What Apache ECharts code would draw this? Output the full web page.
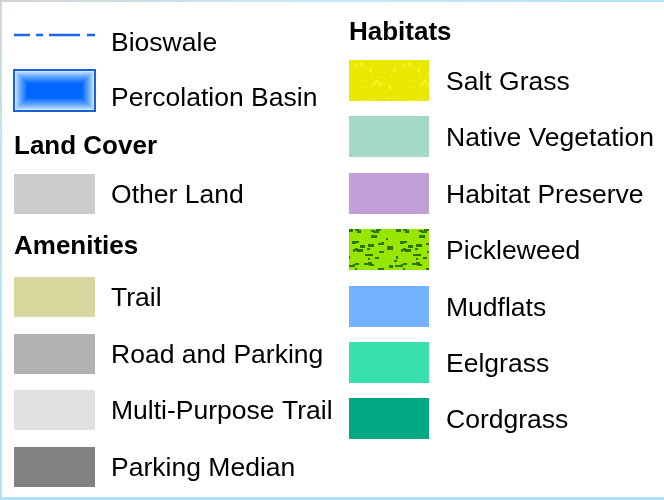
<!DOCTYPE html>
<html><head><meta charset="utf-8">
<script src="https://cdn.jsdelivr.net/npm/echarts@6/dist/echarts.min.js"></script>
<style>html,body{margin:0;padding:0;background:#fff}#c{width:664px;height:500px}</style>
</head><body><div id="c"></div>
<script>
// ---- legend content ----
const leftHeaders = ["Land Cover", "Amenities"];
const rightHeader = "Habitats";
const lineLabel = "Bioswale";
const basinLabel = "Percolation Basin";
const landLabels = ["Other Land"];
const landColors = ["#cccccc"];
const amenityLabels = ["Trail", "Road and Parking", "Multi-Purpose Trail", "Parking Median"];
const amenityColors = ["#d7d79e", "#b2b2b2", "#e1e1e1", "#828282"];
const habitatLabels = ["Salt Grass", "Native Vegetation", "Habitat Preserve", "Pickleweed", "Mudflats", "Eelgrass", "Cordgrass"];
const habitatColors = ["pattern:salt", "#a3d9c6", "#c39fd8", "pattern:pickle", "#73b2ff", "#38e0ae", "#00a884"];

// deterministic hash for texture pixels
function h(i, s) { let x = Math.sin(i * 127.1 + s * 311.7) * 43758.5453; return x - Math.floor(x); }
function makeSalt() {
  const c = document.createElement('canvas'); c.width = 48; c.height = 48;
  const g = c.getContext('2d'); g.fillStyle = '#e8e800'; g.fillRect(0, 0, 48, 48);
  g.fillStyle = '#ffff44';
  for (let i = 0; i < 30; i++) {
    const x = Math.floor(h(i, 1) * 46), y = Math.floor(h(i, 2) * 46);
    g.fillRect(x, y, 1, 1);
    if (h(i, 3) > 0.75) { g.fillRect(x + 1, y + 1, 1, 1); g.fillRect(x + 2, y, 1, 1); g.fillRect(x, y + 2, 1, 1); g.fillRect(x + 2, y + 2, 1, 1); }
  }
  return c;
}
function makePickle() {
  const c = document.createElement('canvas'); c.width = 48; c.height = 48;
  const g = c.getContext('2d'); g.fillStyle = '#98e600'; g.fillRect(0, 0, 48, 48);
  g.fillStyle = '#2b7800';
  for (let i = 0; i < 40; i++) {
    const x = Math.floor(h(i, 4) * 48), y = Math.floor(h(i, 5) * 48);
    const w = 2 + Math.floor(h(i, 6) * 5), hh = 2 + Math.floor(h(i, 7) * 1.6);
    g.fillRect(x, y, w, hh);
  }
  return c;
}
const patterns = { "pattern:salt": makeSalt(), "pattern:pickle": makePickle() };
function fillOf(c) { return patterns[c] ? { image: patterns[c], repeat: 'repeat' } : c; }

const FONT = '"Liberation Sans", Arial, sans-serif';
const FS = 26;
const DY = 2;
const g = [];
function label(x, y, t, bold) {
  g.push({ type: 'text', x: x, y: y + DY, scaleX: bold ? 1.0 : 1.02, style: { text: t, fill: '#000', font: (bold ? 'bold ' : '') + FS + 'px ' + FONT, verticalAlign: 'middle', align: 'left' } });
}
function swatch(x, y, w, hh, c) {
  g.push({ type: 'rect', shape: { x: x, y: y, width: w, height: hh }, style: { fill: fillOf(c) } });
}

// border
g.push({ type: 'rect', shape: { x: 0, y: 0, width: 664, height: 2 }, style: { fill: new echarts.graphic.LinearGradient(0, 0, 1, 0, [{ offset: 0, color: '#d4d4d4' }, { offset: 0.45, color: '#c8e8f8' }, { offset: 1, color: '#b2e2fa' }]) } });
g.push({ type: 'rect', shape: { x: 0, y: 0, width: 2, height: 500 }, style: { fill: new echarts.graphic.LinearGradient(0, 0, 0, 1, [{ offset: 0, color: '#d4d4d4' }, { offset: 0.3, color: '#c0e6f8' }, { offset: 1, color: '#b2e2fa' }]) } });
g.push({ type: 'rect', shape: { x: 0, y: 497, width: 664, height: 3 }, style: { fill: '#b2e2fa' } });

// bioswale line
g.push({ type: 'line', shape: { x1: 14, y1: 35, x2: 95, y2: 35 }, style: { stroke: '#1f66ec', lineWidth: 2.4, lineDash: [16, 6, 7, 6, 31, 7, 8, 100] } });
label(111, 42, lineLabel);

// percolation basin with inner glow
(function () {
  const x0 = 13, y0 = 69, w = 83, hh = 43;
  g.push({ type: 'rect', shape: { x: x0, y: y0, width: w, height: hh }, style: { fill: '#1a5fe0' } });
  const steps = 13;
  for (let i = 0; i < steps; i++) {
    const t = Math.pow(i / (steps - 1), 0.8);
    const r = Math.round(205 * (1 - t)), gg = Math.round(232 * (1 - t) + 102 * t);
    const col = 'rgb(' + r + ',' + gg + ',255)';
    const ix = x0 + 2 + i, iy = y0 + 2 + i;
    const iw = w - 4 - 2 * i, ih = hh - 4 - 2 * i;
    if (iw > 0 && ih > 0) g.push({ type: 'rect', shape: { x: ix, y: iy, width: iw, height: ih }, style: { fill: col } });
  }
})();
label(111, 97, basinLabel);

// land cover
label(14, 145, leftHeaders[0], true);
landLabels.forEach((t, i) => { swatch(14, 174, 81, 40, landColors[i]); label(111, 194, t); });

// amenities
label(14, 245, leftHeaders[1], true);
amenityLabels.forEach((t, i) => { const y = 277 + i * 56.7; swatch(14, Math.round(y), 81, 40, amenityColors[i]); label(111, Math.round(y + 20), t); });

// habitats
label(349, 31, rightHeader, true);
habitatLabels.forEach((t, i) => { const y = 60 + i * 56.4; swatch(349, Math.round(y), 80, 41, habitatColors[i]); label(446, Math.round(y + 21), t); });

const chart = echarts.init(document.getElementById('c'), null, { renderer: 'canvas' });
chart.setOption({ backgroundColor: '#fff', animation: false, graphic: g });
</script></body></html>
